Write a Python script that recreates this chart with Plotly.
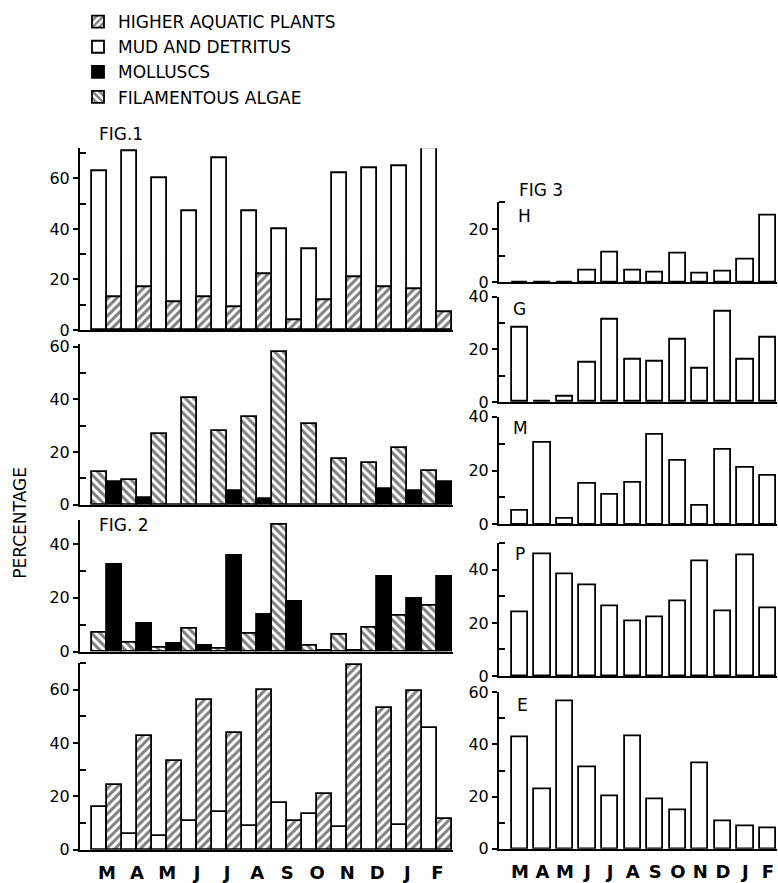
import plotly.graph_objects as go

W, H = 778, 883

months = ["M", "A", "M", "J", "J", "A", "S", "O", "N", "D", "J", "F"]

# Fig. 1 (top left): mud & detritus and higher aquatic plants
fig1_mud = [63, 71, 60, 47, 68, 47, 40, 32, 62, 64, 65, 72]
fig1_plants = [13, 17, 11, 13, 9, 22, 4, 12, 21, 17, 16, 7]

# Second left panel: filamentous algae and molluscs
p2_algae = [12.5, 9.3, 27, 40.5, 28, 33.5, 58, 30.5, 17.5, 16, 21.5, 13]
p2_molluscs = [8.5, 2.5, 0, 0, 5.2, 2.2, 0, 0, 0, 5.9, 5.4, 8.5]

# Fig. 2 (third left panel): filamentous algae and molluscs
fig2_algae = [7, 3.3, 1.3, 8.5, 1.2, 6.7, 47, 2.2, 6.4, 8.8, 13.3, 17]
fig2_molluscs = [32.4, 10.5, 2.8, 2.2, 35.5, 13.6, 18.5, 0.4, 0.3, 27.9, 19.6, 27.9]

# Bottom left panel: mud & detritus and higher aquatic plants
p4_mud = [16.2, 5.9, 5.2, 10.7, 14, 8.9, 17.7, 13.6, 8.7, 0, 9.3, 45.5]
p4_plants = [24.4, 42.8, 33.4, 56, 43.7, 60, 10.7, 20.9, 69.4, 53.2, 59.6, 11.4]

# Fig. 3 (right column)
fig3_H = [0, 0, 0, 4.6, 11.4, 4.4, 3.7, 10.8, 3.2, 4, 8.6, 25.1]
fig3_G = [28.4, 0, 2.1, 15.1, 31.2, 16, 15.4, 23.7, 12.6, 34.2, 16, 24.4]
fig3_M = [4.9, 30.3, 2.2, 15.2, 10.9, 15.5, 33.3, 23.6, 7.0, 27.6, 21.2, 18]
fig3_P = [24.1, 45.9, 38.3, 34.3, 26.3, 20.6, 22, 28.1, 43.2, 24.5, 45.3, 25.5]
fig3_E = [42.7, 22.7, 56.6, 31.2, 20, 43.1, 19.1, 14.7, 32.7, 10.6, 8.7, 7.7]

xs = list(range(12))
FONT = "DejaVu Sans"
LW = 1.8

styles = {
    "plants": dict(name="HIGHER AQUATIC PLANTS", color="white",
                   pattern=dict(shape="/", fgcolor="black", bgcolor="white", size=6, solidity=0.5, fillmode="overlay"), rank=1),
    "mud": dict(name="MUD AND DETRITUS", color="white", pattern=None, rank=2),
    "moll": dict(name="MOLLUSCS", color="black", pattern=None, rank=3),
    "algae": dict(name="FILAMENTOUS ALGAE", color="white",
                  pattern=dict(shape="\\", fgcolor="black", bgcolor="white", size=6, solidity=0.5, fillmode="overlay"), rank=4),
}
shown = set()

fig = go.Figure()


def add_bar(kind, vals, xa, ya, offset, width):
    st = styles[kind]
    marker = dict(color=st["color"], line=dict(color="black", width=LW))
    if st["pattern"]:
        marker["pattern"] = st["pattern"]
    show = kind not in shown
    shown.add(kind)
    fig.add_trace(go.Bar(x=xs, y=vals, xaxis=xa, yaxis=ya, offset=offset, width=width,
                         marker=marker, name=st["name"], legendgroup=kind,
                         showlegend=show, legendrank=st["rank"]))


def py(px):
    return 1 - px / H


left = [
    (("mud", fig1_mud), ("plants", fig1_plants), 72, 328, 142.2),
    (("algae", p2_algae), ("moll", p2_molluscs), 61, 506.7, 342.3),
    (("algae", fig2_algae), ("moll", fig2_molluscs), 49, 656.7, 522.0),
    (("mud", p4_mud), ("plants", p4_plants), 70, 859.3, 668.4),
]
right = [
    (fig3_H, 30, 279.3, 197.7),
    (fig3_G, 40, 401.7, 294.0),
    (fig3_M, 40, 526.7, 416.7),
    (fig3_P, 50, 681.7, 546.0),
    (fig3_E, 60, 858.3, 698.3),
]

layout = {}
tickfont = dict(family=FONT, size=16, color="black")
xfont = dict(family=FONT, size=18, color="black", weight="bold")
n = 0
for i, (a, b, top, y0, y1) in enumerate(left):
    n += 1
    xa, ya = f"x{n}", f"y{n}"
    add_bar(a[0], a[1], xa, ya, -0.5, 0.5)
    add_bar(b[0], b[1], xa, ya, 0.0, 0.5)
    last = i == len(left) - 1
    layout[f"xaxis{n}"] = dict(domain=[80 / W, 453 / W], range=[-0.9, 11.52], anchor=ya,
                               showline=True, linecolor="black", linewidth=2, showgrid=False,
                               zeroline=False, ticks="", tickvals=xs, ticktext=months,
                               showticklabels=last, tickfont=xfont, ticklabelstandoff=6)
    layout[f"yaxis{n}"] = dict(domain=[py(y0), py(y1)], range=[0, top], anchor=xa,
                               showline=True, linecolor="black", linewidth=2, showgrid=False,
                               zeroline=False, tickvals=[0, 20, 40, 60], ticks="outside", ticklen=5,
                               tickwidth=2, tickcolor="black",
                               minor=dict(tickvals=[10, 30, 50, 70], ticks="inside", ticklen=6, tickwidth=2, tickcolor="black"),
                               tickfont=tickfont)

for i, (vals, top, y0, y1) in enumerate(right):
    n += 1
    xa, ya = f"x{n}", f"y{n}"
    add_bar("mud", vals, xa, ya, -0.36, 0.72)
    last = i == len(right) - 1
    layout[f"xaxis{n}"] = dict(domain=[499 / W, 777 / W], range=[-0.93, 11.4], anchor=ya,
                               showline=True, linecolor="black", linewidth=2, showgrid=False,
                               zeroline=False, ticks="", tickvals=xs, ticktext=months,
                               showticklabels=last, tickfont=xfont, ticklabelstandoff=6)
    layout[f"yaxis{n}"] = dict(domain=[py(y0), py(y1)], range=[0, top], anchor=xa,
                               showline=True, linecolor="black", linewidth=2, showgrid=False,
                               zeroline=False, tickvals=[0, 20, 40, 60], ticks="outside", ticklen=5,
                               tickwidth=2, tickcolor="black",
                               minor=dict(tickvals=[10, 30, 50], ticks="inside", ticklen=6, tickwidth=2, tickcolor="black"),
                               tickfont=tickfont)

ann_font = dict(family=FONT, size=17, color="black")
annotations = [
    dict(text="FIG.1", x=97 / W, y=py(128), xanchor="left", yanchor="middle"),
    dict(text="FIG. 2", x=97 / W, y=py(527), xanchor="left", yanchor="middle"),
    dict(text="FIG 3", x=517 / W, y=py(185), xanchor="left", yanchor="middle"),
    dict(text="H", x=516 / W, y=py(212), xanchor="left", yanchor="middle"),
    dict(text="G", x=511 / W, y=py(307), xanchor="left", yanchor="middle"),
    dict(text="M", x=511 / W, y=py(428), xanchor="left", yanchor="middle"),
    dict(text="P", x=513 / W, y=py(557), xanchor="left", yanchor="middle"),
    dict(text="E", x=515 / W, y=py(711), xanchor="left", yanchor="middle"),
    dict(text="PERCENTAGE", x=20 / W, y=py(525), xanchor="center", yanchor="middle", textangle=-90),
]
for a in annotations:
    a.update(xref="paper", yref="paper", showarrow=False, font=ann_font)

fig.update_layout(
    width=W, height=H, margin=dict(l=0, r=0, t=0, b=0),
    paper_bgcolor="white", plot_bgcolor="white",
    barmode="overlay", bargap=0,
    font=dict(family=FONT, color="black"),
    annotations=annotations,
    legend=dict(x=78 / W, y=1 + 5 / H, xanchor="left", yanchor="top", bgcolor="rgba(0,0,0,0)",
                font=dict(family=FONT, size=17, color="black"), tracegroupgap=0,
                traceorder="grouped", itemwidth=30),
    **layout,
)

fig.write_html("out.html", config={"displayModeBar": False},
               post_script="document.body.style.margin='0';document.body.style.overflow='hidden';")
